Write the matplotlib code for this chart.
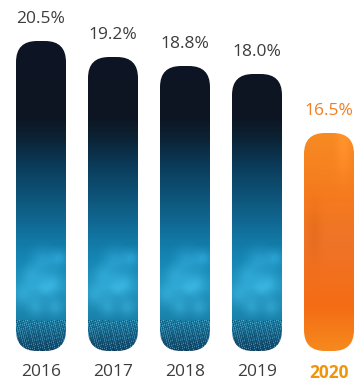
import numpy as np
import matplotlib
matplotlib.use("Agg")
import matplotlib.pyplot as plt
from matplotlib.patches import FancyBboxPatch
from matplotlib.colors import LinearSegmentedColormap

years = ["2016", "2017", "2018", "2019", "2020"]
values = [20.5, 19.2, 18.8, 18.0, 16.5]
# drawn bar heights (the original graphic is not to scale)
bar_heights = [310, 294, 285, 277, 218]
highlight = [False, False, False, False, True]

W, H = 359, 387
fig = plt.figure(figsize=(W / 100, H / 100), dpi=100)
plt.rcParams['font.family'] = ['Open Sans', 'DejaVu Sans']

base_px = 351
ax = fig.add_axes([0, (H - base_px) / H, 1, base_px / H])
spacing_px = 72
first_px = 41
ax.set_xlim(-first_px / spacing_px, (W - first_px) / spacing_px)
ax.set_ylim(0, base_px)
ax.axis("off")

bar_w = 50 / spacing_px
radius_px = 21

blue_cmap = LinearSegmentedColormap.from_list("blue", [
    (0.0, "#0e1526"), (0.25, "#0d1622"), (0.32, "#0b2538"), (0.40, "#0b3b5a"),
    (0.52, "#0e587e"), (0.62, "#11729e"), (0.70, "#1585b3"), (0.80, "#2194bf"),
    (0.90, "#1a82aa"), (1.0, "#12486c")])
orange_cmap = LinearSegmentedColormap.from_list("orange", [
    (0.0, "#f78a22"), (0.3, "#f57a1e"), (0.5, "#ef7428"), (0.8, "#f56c14"),
    (1.0, "#f68a1e")])

ny, nx = 300, 50
yy = np.linspace(1, 0, ny)[:, None] * np.ones((1, nx))
xx = np.ones((ny, 1)) * np.linspace(0, 1, nx)[None, :]

# bokeh texture: fixed soft circles (x, t, radius) in bar-relative coordinates
blobs = [(0.55, 0.71, 0.06), (0.30, 0.76, 0.05), (0.75, 0.78, 0.05),
         (0.40, 0.86, 0.04), (0.78, 0.86, 0.04), (0.15, 0.82, 0.05),
         (0.55, 0.80, 0.05), (0.88, 0.70, 0.04)]
aspect = 50 / 310

for i, (yr, v, h, hi) in enumerate(zip(years, values, bar_heights, highlight)):
    x0 = i - bar_w / 2
    patch = FancyBboxPatch((x0, 0), bar_w, h,
                           boxstyle=f"round,pad=0,rounding_size={radius_px / spacing_px}",
                           mutation_aspect=spacing_px, linewidth=0, facecolor="none")
    ax.add_patch(patch)
    t = 1 - yy
    if hi:
        img = orange_cmap(t)[:, :, :3]
        img = img + 0.04 * np.exp(-((xx - 0.8) ** 2 + (t - 0.05) ** 2) / 0.02)[:, :, None]
        img = img - 0.03 * np.exp(-((xx - 0.2) ** 2 + (t - 0.45) ** 2) / 0.02)[:, :, None]
        extent = (x0, x0 + bar_w, 0, h)
    else:
        top = max(bar_heights)
        img = blue_cmap(t)[:, :, :3]
        for bx, by, br in blobs:
            d = np.sqrt(((xx - bx) * aspect) ** 2 + (t - by) ** 2)
            g = np.clip(1.2 - d / br, 0, 1) ** 1.5
            img = img + 0.09 * g[:, :, None] * np.array([0.7, 0.95, 1.0])
        # glitter near the bottom
        n1 = np.sin(xx * 97.3 + t * 311.7) * np.sin(xx * 53.1 - t * 547.9)
        sp = (n1 > 0.55) & (t > 0.9)
        dark = (n1 < -0.5) & (t > 0.9)
        img[sp] = img[sp] * 0.5 + np.array([0.55, 0.82, 0.92]) * 0.5
        img[dark] = img[dark] * 0.7
        extent = (x0, x0 + bar_w, 0, top)
    img = np.clip(img, 0, 1)
    im = ax.imshow(img, extent=extent, aspect="auto", interpolation="bilinear", zorder=2)
    im.set_clip_path(patch)

    lab_col = "#f07f22" if hi else "#3d3d3d"
    ax.annotate(f"{v:.1f}%", (i, h), xytext=(0, 10), textcoords="offset points",
                ha="center", va="bottom", fontsize=12.5, color=lab_col)
    ax.annotate(yr, (i, 0), xytext=(0, -9), textcoords="offset points",
                ha="center", va="top", fontsize=12.5,
                color="#f0950a" if hi else "#3d3d3d",
                fontweight="bold" if hi else "normal", annotation_clip=False)

fig.savefig("out.png", dpi=100)
